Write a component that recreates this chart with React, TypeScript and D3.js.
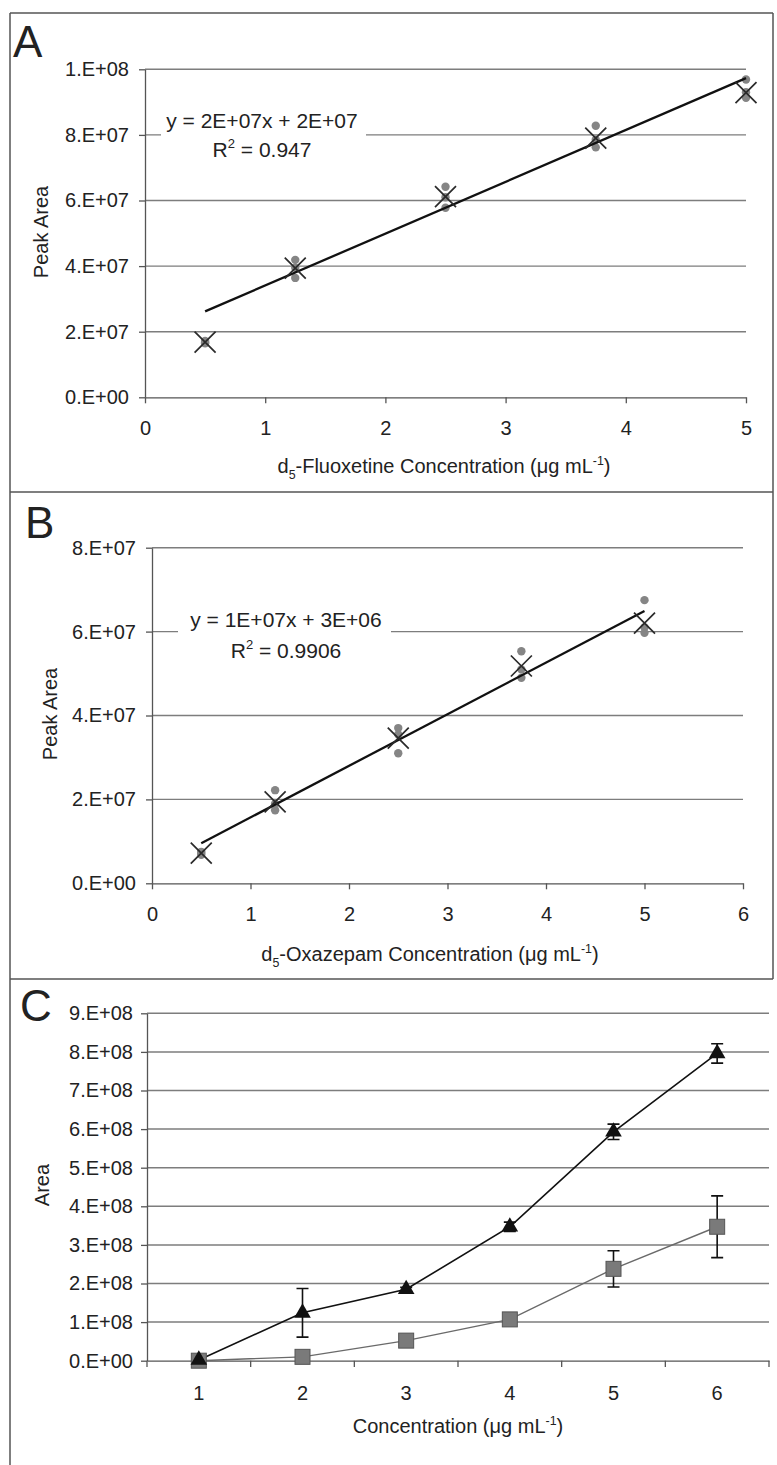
import { useEffect, useRef } from 'react';
import * as d3 from 'd3';

const FONT = "'Liberation Sans', Arial, Helvetica, sans-serif";

// Panel A - d5-fluoxetine calibration
const concA = [0.5, 1.25, 2.5, 3.75, 5];
const repsA = [
  [1.72e7, 1.65e7, 1.68e7],
  [4.19e7, 3.64e7, 3.95e7],
  [6.42e7, 5.78e7, 6.1e7],
  [8.28e7, 7.62e7, 7.85e7],
  [9.69e7, 9.13e7, 9.3e7],
];
const meanA = [1.68e7, 3.94e7, 6.12e7, 7.9e7, 9.29e7];
const fitA = [1.58e7, 1.83e7]; // slope, intercept
const xTicksA = [0, 1, 2, 3, 4, 5];
const yTicksA = [0, 2e7, 4e7, 6e7, 8e7, 1e8];
const yLabelsA = ['0.E+00', '2.E+07', '4.E+07', '6.E+07', '8.E+07', '1.E+08'];
const eqA = ['y = 2E+07x + 2E+07', '0.947'];

// Panel B - d5-oxazepam calibration
const concB = [0.5, 1.25, 2.5, 3.75, 5];
const repsB = [
  [0.75e7, 0.68e7, 0.72e7],
  [2.22e7, 1.74e7, 1.9e7],
  [3.7e7, 3.1e7, 3.55e7],
  [5.53e7, 4.9e7, 5.1e7],
  [6.75e7, 5.97e7, 6.1e7],
];
const meanB = [0.72e7, 1.94e7, 3.46e7, 5.18e7, 6.2e7];
const fitB = [1.23e7, 0.34e7];
const xTicksB = [0, 1, 2, 3, 4, 5, 6];
const yTicksB = [0, 2e7, 4e7, 6e7, 8e7];
const yLabelsB = ['0.E+00', '2.E+07', '4.E+07', '6.E+07', '8.E+07'];
const eqB = ['y = 1E+07x + 3E+06', '0.9906'];

// Panel C - area vs concentration
const concC = ['1', '2', '3', '4', '5', '6'];
const triC = [0.02e8, 1.24e8, 1.85e8, 3.47e8, 5.93e8, 7.96e8];
const triErrC = [0.01e8, 0.63e8, 0.05e8, 0.12e8, 0.2e8, 0.25e8];
const sqC = [0, 0.1e8, 0.52e8, 1.07e8, 2.38e8, 3.47e8];
const sqErrC = [0, 0.02e8, 0.03e8, 0.05e8, 0.47e8, 0.8e8];
const yTicksC = [0, 1e8, 2e8, 3e8, 4e8, 5e8, 6e8, 7e8, 8e8, 9e8];
const yLabelsC = ['0.E+00', '1.E+08', '2.E+08', '3.E+08', '4.E+08', '5.E+08', '6.E+08', '7.E+08', '8.E+08', '9.E+08'];

const GRID = '#7d7d7d';
const AXIS = '#555';
const TEXT = '#222';

function richText(parent: any, x: number, y: number, parts: [string, string | null][], size: number, anchor = 'middle') {
  const t = parent.append('text')
    .attr('x', x).attr('y', y)
    .attr('text-anchor', anchor)
    .attr('font-family', FONT)
    .attr('font-size', size)
    .attr('fill', TEXT);
  let cur = 0;
  parts.forEach(([s, kind]) => {
    const target = kind === 'sub' ? size * 0.3 : kind === 'sup' ? -size * 0.42 : 0;
    t.append('tspan')
      .attr('dy', target - cur)
      .attr('font-size', kind ? size * 0.62 : size)
      .text(s);
    cur = target;
  });
  return t;
}

function styleAxis(g: any) {
  g.select('.domain').attr('stroke', AXIS).attr('stroke-width', 1.3);
  g.selectAll('.tick line').attr('stroke', AXIS).attr('stroke-width', 1.3);
  g.selectAll('text').attr('font-size', 20).attr('font-family', FONT).attr('fill', TEXT);
}

function drawCalib(svg: any, p: any) {
  const x = d3.scaleLinear().domain(p.xDomain).range(p.xRange);
  const y = d3.scaleLinear().domain(p.yDomain).range(p.yRange);
  const g = svg.append('g');

  // gridlines
  g.selectAll('line.grid')
    .data(p.yTicks.filter((d: number) => d > 0))
    .enter().append('line')
    .attr('x1', p.xRange[0]).attr('x2', p.xRange[1])
    .attr('y1', (d: number) => y(d)).attr('y2', (d: number) => y(d))
    .attr('stroke', GRID).attr('stroke-width', 1.4);

  const yAxis = d3.axisLeft(y).tickValues(p.yTicks)
    .tickFormat((_d: any, i: number) => p.yLabels[i])
    .tickSize(6).tickSizeOuter(0).tickPadding(10);
  const yg = g.append('g').attr('transform', `translate(${p.xRange[0]},0)`).call(yAxis);
  styleAxis(yg);

  const xAxis = d3.axisBottom(x).tickValues(p.xTicks)
    .tickFormat(d3.format('d'))
    .tickSize(6).tickSizeOuter(0).tickPadding(18);
  const xg = g.append('g').attr('transform', `translate(0,${p.yRange[0]})`).call(xAxis);
  styleAxis(xg);

  // equation label with white box
  g.append('rect')
    .attr('x', p.eqBox[0]).attr('y', p.eqBox[1])
    .attr('width', p.eqBox[2]).attr('height', p.eqBox[3])
    .attr('fill', '#fff');
  richText(g, p.eqPos[0], p.eqPos[1], [[p.eq[0], null]], 21);
  richText(g, p.eqPos[0], p.eqPos[2], [['R', null], ['2', 'sup'], [' = ' + p.eq[1], null]], 21);

  // replicate dots
  p.conc.forEach((c: number, i: number) => {
    g.selectAll(null)
      .data(p.reps[i])
      .enter().append('circle')
      .attr('cx', x(c)).attr('cy', (d: number) => y(d))
      .attr('r', 4.2).attr('fill', '#858585');
  });

  // trendline
  const ends = [p.conc[0], p.conc[p.conc.length - 1]];
  const line = d3.line<number>().x(d => x(d)).y(d => y(p.fit[0] * d + p.fit[1]));
  g.append('path').attr('d', line(ends)).attr('fill', 'none')
    .attr('stroke', '#111').attr('stroke-width', 2.3);

  // mean X markers
  const h = 10.5;
  g.selectAll('path.xm')
    .data(p.means)
    .enter().append('path')
    .attr('transform', (d: number, i: number) => `translate(${x(p.conc[i])},${y(d)})`)
    .attr('d', `M${-h},${-h}L${h},${h}M${-h},${h}L${h},${-h}`)
    .attr('stroke', '#2a2a2a').attr('stroke-width', 1.7).attr('fill', 'none');

  // axis titles
  richText(g, p.xTitlePos[0], p.xTitlePos[1], p.xTitle, 20);
  richText(g, 0, 0, [[p.yTitle, null]], 20)
    .attr('transform', `translate(${p.yTitlePos[0]},${p.yTitlePos[1]}) rotate(-90)`);

  g.append('text').attr('x', p.letterPos[0]).attr('y', p.letterPos[1])
    .attr('font-family', FONT).attr('font-size', 44).attr('fill', TEXT).text(p.letter);
}

function drawPanelC(svg: any) {
  const x = d3.scaleBand().domain(concC).range([147, 769]).paddingInner(0);
  const y = d3.scaleLinear().domain([0, 9e8]).range([1360.7, 1013.3]);
  const cx = (c: string) => (x(c) as number) + x.bandwidth() / 2;
  const g = svg.append('g');

  g.selectAll('line.grid')
    .data(yTicksC.filter(d => d > 0))
    .enter().append('line')
    .attr('x1', 147).attr('x2', 769)
    .attr('y1', d => y(d)).attr('y2', d => y(d))
    .attr('stroke', GRID).attr('stroke-width', 1.5);

  const yAxis = d3.axisLeft(y).tickValues(yTicksC)
    .tickFormat((_d: any, i: number) => yLabelsC[i])
    .tickSize(6).tickSizeOuter(0).tickPadding(8);
  const yg = g.append('g').attr('transform', 'translate(147,0)').call(yAxis);
  styleAxis(yg);

  const xAxis = d3.axisBottom(x).tickSize(0).tickSizeOuter(0).tickPadding(25);
  const xg = g.append('g').attr('transform', 'translate(0,1360.7)').call(xAxis);
  styleAxis(xg);
  // category boundary ticks
  const bounds = concC.map(c => x(c) as number).concat([x.range()[1]]);
  g.selectAll('line.bt').data(bounds).enter().append('line')
    .attr('x1', d => d).attr('x2', d => d)
    .attr('y1', 1360.7).attr('y2', 1367)
    .attr('stroke', AXIS).attr('stroke-width', 1.3);

  const line = d3.line<number>().x((_d, i) => cx(concC[i])).y(d => y(d));
  g.append('path').attr('d', line(sqC)).attr('fill', 'none')
    .attr('stroke', '#6a6a6a').attr('stroke-width', 1.4);
  g.append('path').attr('d', line(triC)).attr('fill', 'none')
    .attr('stroke', '#111').attr('stroke-width', 1.6);

  const errBars = (vals: number[], errs: number[]) => {
    vals.forEach((v, i) => {
      if (errs[i] <= 0) return;
      const px = cx(concC[i]);
      const top = y(v + errs[i]);
      const bot = y(v - errs[i]);
      g.append('path')
        .attr('d', `M${px},${top}V${bot}M${px - 6},${top}H${px + 6}M${px - 6},${bot}H${px + 6}`)
        .attr('stroke', '#111').attr('stroke-width', 1.6).attr('fill', 'none');
    });
  };
  errBars(sqC, sqErrC);
  errBars(triC, triErrC);

  g.selectAll('rect.sq').data(sqC).enter().append('rect')
    .attr('x', (_d, i) => cx(concC[i]) - 7.5)
    .attr('y', d => y(d) - 7.5)
    .attr('width', 15).attr('height', 15)
    .attr('fill', '#7a7a7a').attr('stroke', '#555').attr('stroke-width', 1);

  const tri = d3.symbol().type(d3.symbolTriangle).size(120);
  g.selectAll('path.tri').data(triC).enter().append('path')
    .attr('transform', (d, i) => `translate(${cx(concC[i])},${y(d)})`)
    .attr('d', tri() as string)
    .attr('fill', '#111');

  richText(g, 458, 1433, [['Concentration (μg mL', null], ['-1', 'sup'], [')', null]], 20);
  richText(g, 0, 0, [['Area', null]], 20).attr('transform', 'translate(49,1185) rotate(-90)');
  g.append('text').attr('x', 20).attr('y', 1021)
    .attr('font-family', FONT).attr('font-size', 44).attr('fill', TEXT).text('C');
}

export default function App() {
  const ref = useRef<SVGSVGElement>(null);

  useEffect(() => {
    const svg = d3.select(ref.current);
    svg.selectAll('*').remove();

    svg.append('rect').attr('width', 777).attr('height', 1465).attr('fill', '#fff');

    // panel frames
    const frame = [
      [10, 13, 773, 13], [10, 13, 10, 1465], [773, 13, 773, 979],
      [10, 492, 773, 492], [10, 979, 773, 979],
    ];
    svg.selectAll('line.frame').data(frame).enter().append('line')
      .attr('x1', d => d[0]).attr('y1', d => d[1]).attr('x2', d => d[2]).attr('y2', d => d[3])
      .attr('stroke', '#555').attr('stroke-width', 1.5);

    drawCalib(svg, {
      xDomain: [0, 5], xRange: [145, 746],
      yDomain: [0, 1e8], yRange: [397.3, 69.3],
      xTicks: xTicksA, yTicks: yTicksA, yLabels: yLabelsA,
      conc: concA, reps: repsA, means: meanA, fit: fitA, eq: eqA,
      eqBox: [161, 110, 205, 52], eqPos: [262, 128, 157],
      xTitle: [['d', null], ['5', 'sub'], ['-Fluoxetine Concentration (μg mL', null], ['-1', 'sup'], [')', null]],
      xTitlePos: [444, 473], yTitle: 'Peak Area', yTitlePos: [48, 232],
      letter: 'A', letterPos: [13, 57],
    });

    drawCalib(svg, {
      xDomain: [0, 6], xRange: [152, 743],
      yDomain: [0, 8e7], yRange: [883.3, 547.7],
      xTicks: xTicksB, yTicks: yTicksB, yLabels: yLabelsB,
      conc: concB, reps: repsB, means: meanB, fit: fitB, eq: eqB,
      eqBox: [178, 606, 213, 58], eqPos: [286, 627, 658],
      xTitle: [['d', null], ['5', 'sub'], ['-Oxazepam Concentration (μg mL', null], ['-1', 'sup'], [')', null]],
      xTitlePos: [430, 961], yTitle: 'Peak Area', yTitlePos: [57, 714],
      letter: 'B', letterPos: [25, 538],
    });

    drawPanelC(svg);
  }, []);

  return (
    <svg ref={ref} width={777} height={1465}
      style={{ position: 'absolute', left: 0, top: 0, display: 'block' }} />
  );
}
